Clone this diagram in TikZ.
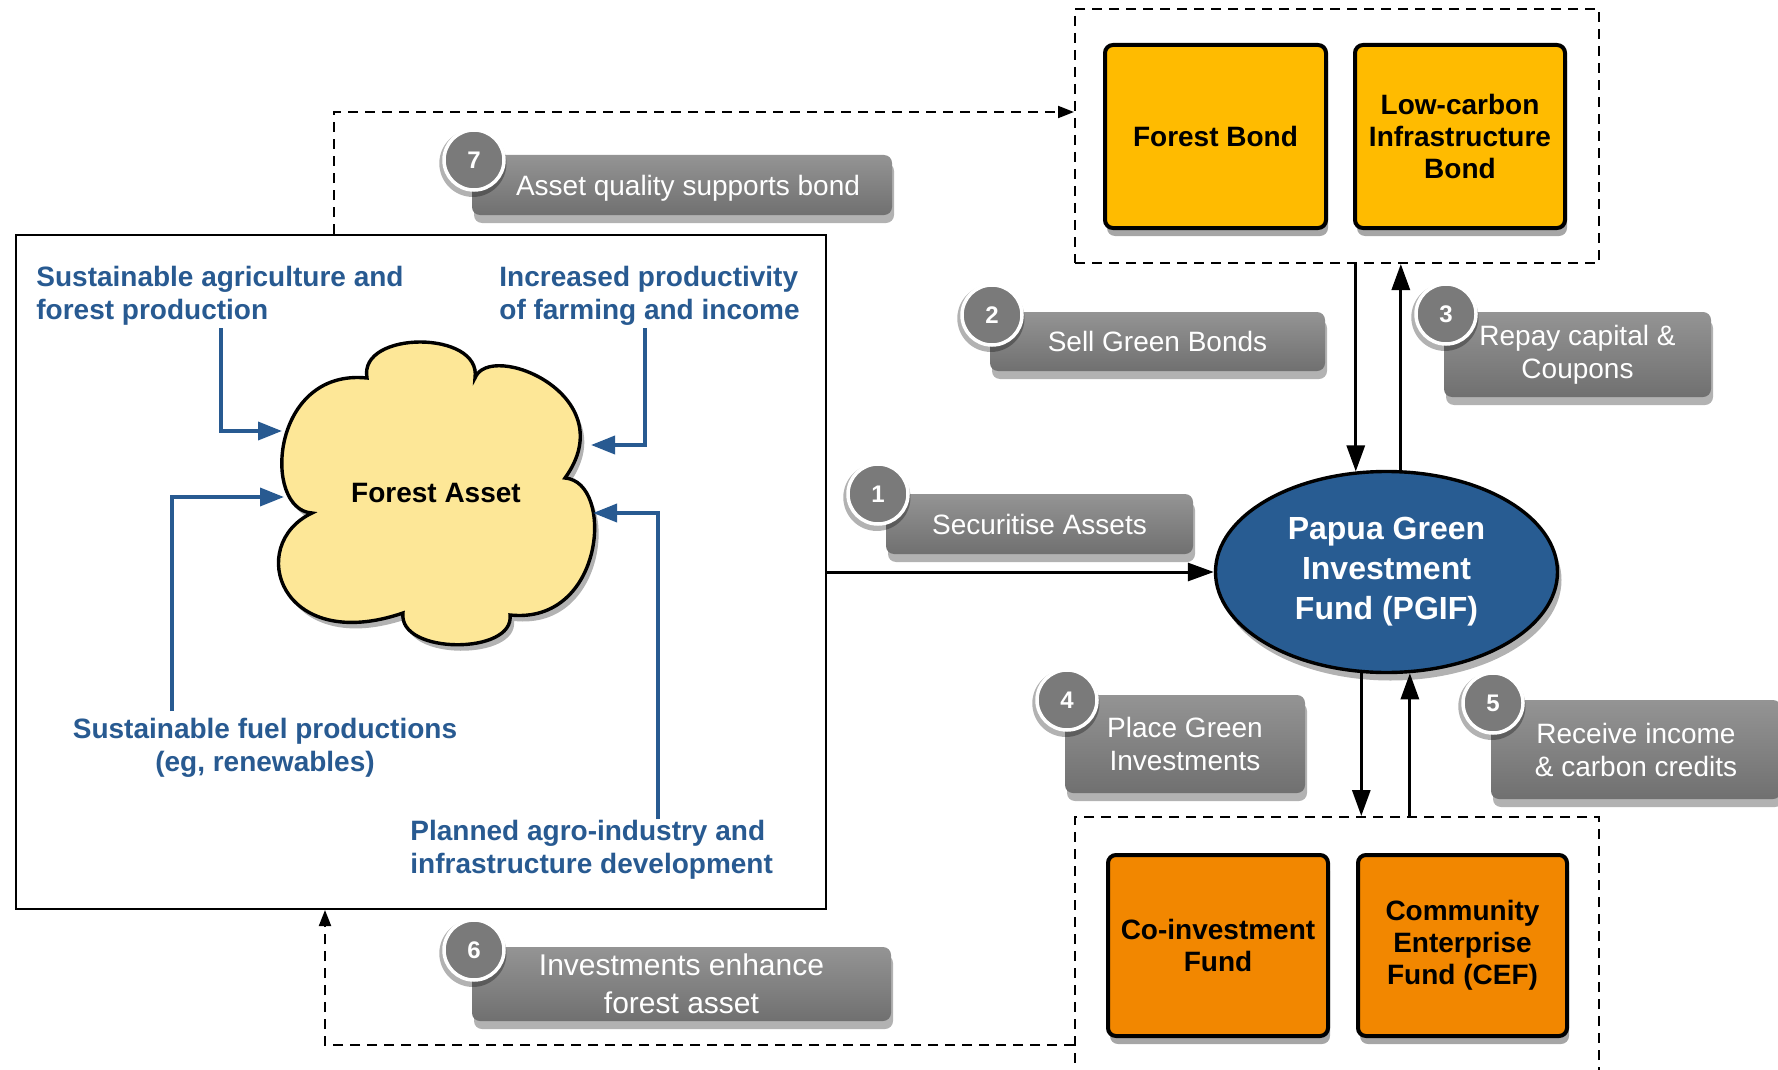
\documentclass[tikz,border=0pt]{standalone}
\usepackage{fontspec}
\setmainfont{Liberation Sans}
\usetikzlibrary{arrows.meta,shadows,shapes.geometric,calc}

\definecolor{fblue}{RGB}{40,90,145}
\definecolor{pgifc}{RGB}{40,92,146}
\definecolor{bondy}{RGB}{255,187,0}
\definecolor{fundo}{RGB}{242,135,0}
\definecolor{cloudy}{RGB}{253,231,151}
\definecolor{lgtop}{RGB}{148,148,148}
\definecolor{lgbot}{RGB}{112,112,112}
\definecolor{circg}{RGB}{122,122,122}

\tikzset{
  lbl/.style={rounded corners=4pt, top color=lgtop, bottom color=lgbot, draw=none,
    text=white, align=center, font=\fontsize{14}{16.5}\selectfont, inner sep=0pt,
    drop shadow={shadow xshift=1pt, shadow yshift=-4pt, opacity=0.3, fill=black}},
  num/.style={circle, draw=white, line width=1.75pt, fill=circg,
    text=white, font=\bfseries\fontsize{12}{12}\selectfont, minimum size=30pt, inner sep=0pt,
    drop shadow={shadow scale=1.12, shadow xshift=-0.5pt, shadow yshift=-1.5pt, opacity=0.3, fill=black}},
  bondbox/.style={draw, line width=2pt, rounded corners=4pt, fill=bondy, align=center,
    minimum height=91.5pt, font=\bfseries\fontsize{14}{16}\selectfont, inner sep=0pt,
    drop shadow={shadow xshift=1pt, shadow yshift=-4pt, opacity=0.35, fill=black}},
  fundbox/.style={bondbox, fill=fundo, minimum height=90.5pt},
  dbox/.style={draw, line width=1pt, dash pattern=on 5pt off 3.5pt, inner sep=0pt},
  bluetxt/.style={text=fblue, font=\bfseries\fontsize{14}{16.5}\selectfont, inner sep=0pt},
  blarrow/.style={draw=fblue, line width=1.75pt, -{Triangle[length=12pt,width=9pt]}, fblue},
  barrow/.style={line width=1.5pt, -{Triangle[length=13pt,width=9pt]}},
  darrow/.style={line width=1pt, dash pattern=on 5pt off 3.5pt, -{Triangle[length=8pt,width=6pt]}},
}

\begin{document}
\begin{tikzpicture}[x=0.5pt,y=-0.5pt]
\useasboundingbox (0,0) rectangle (1778,1070);
\clip (0,0) rectangle (1778,1070);
\fill[white] (0,0) rectangle (1778,1070);

% left region
\node[draw, line width=1pt, minimum width=405pt, minimum height=337pt, inner sep=0pt] (region) at (421,572) {};

% cloud
\draw[fill=cloudy, line width=1.7pt, drop shadow={shadow xshift=2pt, shadow yshift=-3pt, opacity=0.3, fill=black}]
  (312,513) .. controls (262,510) and (270,368) .. (367,378)
  .. controls (358,330) and (482,330) .. (475,378)
  .. controls (490,340) and (625,395) .. (565,478)
  .. controls (615,482) and (605,625) .. (510,615)
  .. controls (515,655) and (398,655) .. (403,613)
  .. controls (280,655) and (245,545) .. cycle;
\node[font=\bfseries\fontsize{14}{16}\selectfont, inner sep=0pt] (fa) at (436,493) {Forest Asset};

% blue labels
\node[bluetxt, anchor=west, align=left] (tA) at (36,295.5) {Sustainable agriculture and\\forest production};
\node[bluetxt, anchor=west, align=left] (tB) at (499,295.5) {Increased productivity\\of farming and income};
\node[bluetxt, align=center] (tC) at (265,747.5) {Sustainable fuel productions\\(eg, renewables)};
\node[bluetxt, anchor=west, align=left] (tD) at (410,849.5) {Planned agro-industry and\\infrastructure development};

% blue arrows
\coordinate (s1) at (221,328); \coordinate (t1) at (282,431);
\coordinate (s2) at (645,328); \coordinate (t2) at (591,445);
\coordinate (s3) at (172,711); \coordinate (t3) at (284,497);
\coordinate (s4) at (658,819); \coordinate (t4) at (593,513);
\draw[blarrow] (s1) |- (t1);
\draw[blarrow] (s2) |- (t2);
\draw[blarrow] (s3) |- (t3);
\draw[blarrow] (s4) |- (t4);

% top group
\node[dbox, minimum width=262pt, minimum height=127pt] (topbox) at (1337,136) {};
\node[bondbox, minimum width=110.5pt] (fb) at (1215.5,136.5) {Forest Bond};
\node[bondbox, minimum width=105pt] (lcb) at (1460,136.5) {Low-carbon\\Infrastructure\\Bond};

% bottom group
\node[dbox, minimum width=262pt, minimum height=140pt] (botbox) at (1337,957) {};
\node[fundbox, minimum width=110pt] (cif) at (1218,945.5) {Co-investment\\Fund};
\node[fundbox, minimum width=104.5pt] (cef) at (1462.5,945.5) {Community\\Enterprise\\Fund (CEF)};

% PGIF
\node[ellipse, draw, line width=1.7pt, fill=pgifc, minimum width=171pt, minimum height=100.5pt,
      text=white, align=center, font=\bfseries\fontsize{16}{20}\selectfont, inner sep=0pt,
      drop shadow={shadow xshift=2pt, shadow yshift=-4pt, opacity=0.3, fill=black}] (pgif) at (1386.5,572)
      {Papua Green\\Investment\\Fund (PGIF)};

% black arrows
\draw[barrow] (region.east) -- (pgif.west);
\draw[barrow] (topbox.south -| pgif.107) -- (pgif.107);
\draw[barrow] (pgif.82) -- (topbox.south -| pgif.82);
\draw[barrow] (pgif.256) -- (botbox.north -| pgif.256);
\draw[barrow] (botbox.north -| pgif.283) -- (pgif.283);

% dashed arrows
\coordinate (k7) at (334,112);
\draw[darrow] (region.north -| k7) -- (k7) -- (k7 -| topbox.west);
\coordinate (k6) at (325,1045);
\draw[darrow] (k6 -| botbox.west) -- (k6) -- (k6 |- region.south);

% step labels
\node[lbl, minimum width=210pt, minimum height=30pt, text depth=0pt] (l7) at (682,185) {\hspace{6pt}Asset quality supports bond};
\node[num] (n7) at (474,160) {7};
\node[lbl, minimum width=167.5pt, minimum height=29.5pt] (l2) at (1157.5,341.5) {Sell Green Bonds};
\node[num] (n2) at (992,315) {2};
\node[lbl, minimum width=133.5pt, minimum height=42.5pt] (l3) at (1577.5,354.5) {Repay capital \&\\Coupons};
\node[num] (n3) at (1446,314) {3};
\node[lbl, minimum width=153.5pt, minimum height=30pt] (l1) at (1039.5,524) {Securitise Assets};
\node[num] (n1) at (878,494) {1};
\node[lbl, minimum width=120pt, minimum height=49pt] (l4) at (1185,744) {Place Green\\Investments};
\node[num] (n4) at (1067,700) {4};
\node[lbl, minimum width=145pt, minimum height=49.5pt] (l5) at (1636,749.5) {Receive income\\\& carbon credits};
\node[num] (n5) at (1493,703) {5};
\node[lbl, minimum width=209.5pt, minimum height=37pt, font=\fontsize{15}{19}\selectfont] (l6) at (681.5,984) {Investments enhance\\forest asset};
\node[num] (n6) at (474,950) {6};
\end{tikzpicture}
\end{document}
